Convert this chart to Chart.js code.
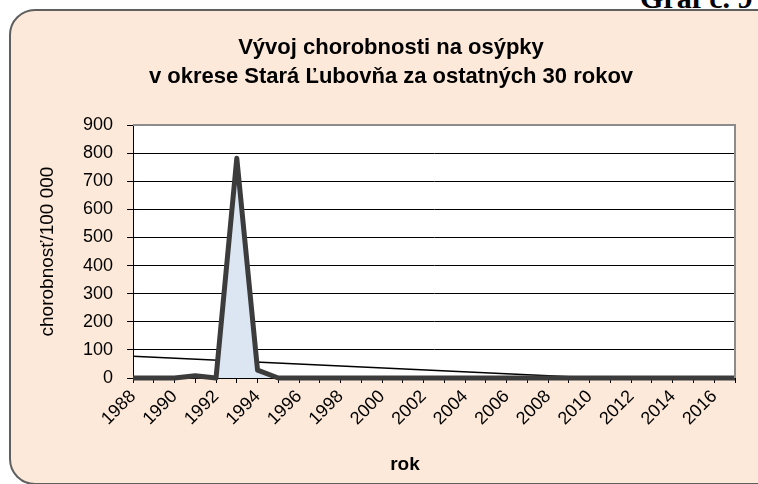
<!DOCTYPE html>
<html lang="sk">
<head>
    <meta charset="UTF-8">
    <title>Vývoj chorobnosti na osýpky</title>
    <style>
        body {
            margin: 0;
            background-color: #ffffff;
            width: 758px;
            height: 484px;
            overflow: hidden;
            position: relative;
            font-family: 'Liberation Sans', Arial, sans-serif;
        }

        .graf {
            position: absolute;
            left: 640px;
            top: -19px;
            font-family: 'Liberation Serif', 'Times New Roman', serif;
            font-weight: 700;
            font-size: 30px;
            white-space: nowrap;
        }

        .box {
            position: absolute;
            left: 9px;
            top: 9px;
            width: 800px;
            height: 472px;
            background-color: #fde9d9;
            border: 2px solid #5f5f5f;
            border-radius: 26px;
        }

        #chartContainer {
            position: absolute;
            left: 0;
            top: 0;
        }
    </style>
</head>

<body>
    <div class="graf">Graf č. 9</div>
    <div class="box"></div>
    <canvas id="chartContainer" width="758" height="484"></canvas>

    <script src="https://cdn.jsdelivr.net/npm/chart.js@4.4.0/dist/chart.umd.min.js"></script>
    <script>
        // roky 1988 - 2017
        const years = ['1988', '1989', '1990', '1991', '1992', '1993', '1994', '1995', '1996', '1997',
            '1998', '1999', '2000', '2001', '2002', '2003', '2004', '2005', '2006', '2007',
            '2008', '2009', '2010', '2011', '2012', '2013', '2014', '2015', '2016', '2017'];

        // chorobnost na 100 000 obyvatelov
        const incidence = [0, 0, 0, 8, 0, 782, 28, 0, 0, 0,
            0, 0, 0, 0, 0, 0, 0, 0, 0, 0,
            0, 0, 0, 0, 0, 0, 0, 0, 0, 0];

        // linearny trend - len koncove body, medzi nimi sa ciara spoji
        const trend = [77, null, null, null, null, null, null, null, null, null,
            null, null, null, null, null, null, null, null, null, null,
            null, null, null, null, null, null, null, null, null, -23];

        const yTicks = [0, 100, 200, 300, 400, 500, 600, 700, 800, 900];

        const font = "'Liberation Sans', Arial";

        const plotBg = {
            id: 'plotBg',
            beforeDraw(chart) {
                const {ctx, chartArea: a} = chart;
                ctx.save();
                ctx.fillStyle = '#ffffff';
                ctx.fillRect(a.left, a.top, a.right - a.left, a.bottom - a.top);
                ctx.restore();
            },
            afterDatasetsDraw(chart) {
                const {ctx, chartArea: a} = chart;
                ctx.save();
                ctx.strokeStyle = '#8c8c8c';
                ctx.lineWidth = 2;
                ctx.beginPath();
                ctx.moveTo(a.left, a.top);
                ctx.lineTo(a.right, a.top);
                ctx.lineTo(a.right, a.bottom);
                ctx.stroke();
                ctx.restore();
            },
            // nazov osi x je v Exceli trochu vlavo od stredu
            afterDraw(chart) {
                const {ctx, chartArea: a} = chart;
                ctx.save();
                ctx.fillStyle = '#000';
                ctx.font = 'bold 19px ' + font;
                ctx.textAlign = 'center';
                ctx.textBaseline = 'middle';
                ctx.fillText('rok', (a.left + a.right) / 2 - 29, 465);
                ctx.restore();
            }
        };

        const ctx = document.getElementById('chartContainer');

        new Chart(ctx, {
            type: 'line',
            data: {
                labels: years,
                datasets: [{
                    label: 'chorobnosť',
                    data: incidence,
                    borderColor: '#3c3c3c',
                    borderWidth: 5,
                    borderJoinStyle: 'round',
                    backgroundColor: '#dce6f2',
                    fill: 'origin',
                    pointRadius: 0,
                    tension: 0,
                    clip: 4
                }, {
                    label: 'trend',
                    data: trend,
                    borderColor: '#000000',
                    borderWidth: 1.5,
                    fill: false,
                    pointRadius: 0,
                    spanGaps: true,
                    clip: 0
                }]
            },
            options: {
                responsive: false,
                animation: false,
                layout: {
                    padding: {left: 47, right: 23, top: 0, bottom: 0}
                },
                plugins: {
                    legend: {display: false},
                    tooltip: {enabled: false},
                    title: {
                        display: true,
                        text: ['Vývoj chorobnosti na osýpky', 'v okrese Stará Ľubovňa za ostatných 30 rokov'],
                        color: '#000',
                        font: {family: font, size: 22, weight: 'bold', lineHeight: 1.32},
                        padding: {top: 33, bottom: 34}
                    }
                },
                scales: {
                    x: {
                        afterFit: s => { s.height = 106; },
                        grid: {drawOnChartArea: false, color: '#000', tickLength: 5},
                        border: {color: '#000', width: 1},
                        ticks: {
                            autoSkip: false,
                            maxRotation: 45,
                            minRotation: 45,
                            padding: 3,
                            color: '#000',
                            font: {family: font, size: 18},
                            callback: (v, i) => i % 2 === 0 ? years[i] : ''
                        }
                    },
                    y: {
                        min: 0,
                        max: 900,
                        afterFit: s => { s.width = 133 - 47; },
                        afterBuildTicks: s => { s.ticks = yTicks.map(v => ({value: v})); },
                        grid: {color: '#000', tickLength: 6},
                        border: {color: '#000', width: 1},
                        ticks: {
                            padding: 14,
                            color: '#000',
                            font: {family: font, size: 18}
                        },
                        title: {
                            display: true,
                            text: 'chorobnosť/100 000',
                            color: '#000',
                            font: {family: font, size: 19},
                            padding: {top: -11, bottom: 0}
                        }
                    }
                }
            },
            plugins: [plotBg]
        });
    </script>
</body>
</html>
